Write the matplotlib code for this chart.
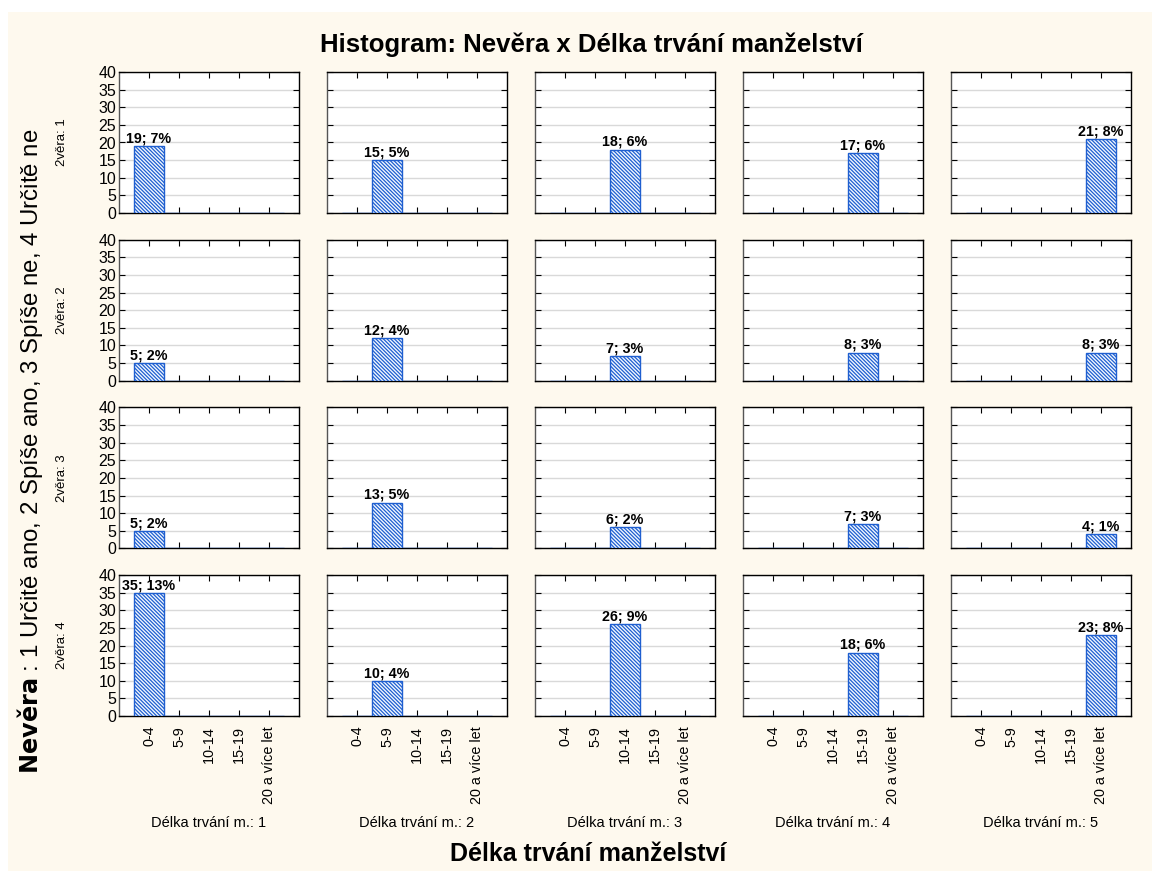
import matplotlib.pyplot as plt
from matplotlib.patches import Rectangle

plt.rcParams['font.family'] = ['Liberation Sans', 'DejaVu Sans']
plt.rcParams['hatch.color'] = '#3a88ee'
plt.rcParams['hatch.linewidth'] = 0.9

# data
categories = ["0-4", "5-9", "10-14", "15-19", "20 a více let"]
row_names = ["2věra: 1", "2věra: 2", "2věra: 3", "2věra: 4"]
col_names = ["Délka trvání m.: 1", "Délka trvání m.: 2", "Délka trvání m.: 3",
             "Délka trvání m.: 4", "Délka trvání m.: 5"]
# count in each panel (row = Nevěra, column = Délka trvání m.)
counts = [
    [19, 15, 18, 17, 21],
    [5, 12, 7, 8, 8],
    [5, 13, 6, 7, 4],
    [35, 10, 26, 18, 23],
]
percents = [
    [7, 5, 6, 6, 8],
    [2, 4, 3, 3, 3],
    [2, 5, 2, 3, 1],
    [13, 4, 9, 6, 8],
]

W, H = 1152, 871
fig = plt.figure(figsize=(W / 100, H / 100), dpi=100)
fig.patch.set_facecolor('white')
fig.patches.append(Rectangle((8 / W, 0), 1 - 8 / W, 1 - 12 / H,
                             transform=fig.transFigure, facecolor='#fef9ee',
                             edgecolor='none', zorder=-10))

pw, ph = 180, 141
for r in range(4):
    for c in range(5):
        left = 119 + 208 * c
        top = 72 + 167.7 * r
        ax = fig.add_axes([left / W, 1 - (top + ph) / H, pw / W, ph / H])
        ax.set_facecolor('white')
        vals = [0] * 5
        vals[c] = counts[r][c]
        ax.bar(range(5), vals, width=1.0, color='#f2f8ff',
               edgecolor='#1f5fd0', hatch='\\' * 9, linewidth=1.0, zorder=3)
        ax.text(c, counts[r][c] + 0.2, f"{counts[r][c]}; {percents[r][c]}%",
                ha='center', va='bottom', fontsize=10.3, fontweight='bold', zorder=4)
        ax.set_xlim(-1, 5)
        ax.set_ylim(0, 40)
        ax.set_yticks(range(0, 41, 5))
        ax.set_xticks(range(5))
        ax.grid(axis='y', color='#d9d9d9', linewidth=1, zorder=0)
        ax.tick_params(direction='in', top=True, right=True, length=4,
                       width=0.8, labelsize=11.5, pad=2)
        if c > 0:
            ax.set_yticklabels([])
        if r < 3:
            ax.set_xticklabels([])
        else:
            ax.set_xticklabels(categories, rotation=90, fontsize=10.4)
            ax.tick_params(axis='x', pad=7)
        for s in ax.spines.values():
            s.set_linewidth(1.0)
        ax.spines['left'].set_color('#555555')
        if c == 0:
            fig.text(62 / W, 1 - (top + ph / 2) / H, row_names[r], rotation=90,
                     ha='center', va='center', fontsize=9.5)
        if r == 3:
            fig.text((left + pw / 2) / W, 1 - 823 / H, col_names[c],
                     ha='center', va='center', fontsize=10.5)

fig.text(591 / W, 1 - 45 / H, "Histogram: Nevěra x Délka trvání manželství",
         ha='center', va='center', fontsize=18.5, fontweight='bold')
fig.text(588 / W, 1 - 854 / H, "Délka trvání manželství",
         ha='center', va='center', fontsize=18, fontweight='bold')
fig.text(30 / W, 1 - 451 / H,
         r"$\bf{Nevěra}$ : 1 Určitě ano, 2 Spíše ano, 3 Spíše ne, 4 Určitě ne",
         rotation=90, ha='center', va='center', fontsize=17.3)

fig.savefig("out.png", dpi=100)
